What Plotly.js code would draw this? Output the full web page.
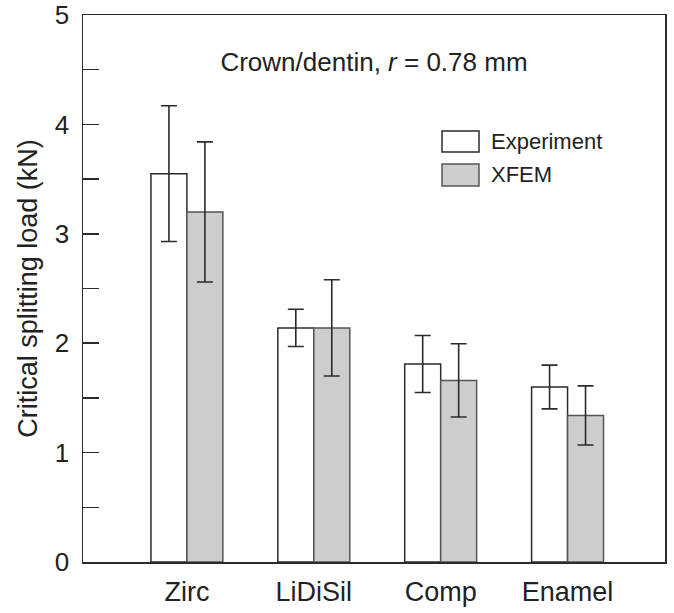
<!DOCTYPE html>
<html>
<head>
<meta charset="utf-8">
<script src="https://cdn.plot.ly/plotly-3.0.1.min.js"></script>
<style>html,body{margin:0;padding:0;background:#fff;}#chart{width:674px;height:613px;}</style>
</head>
<body>
<div id="chart"></div>
<script>
const categories = ['Zirc', 'LiDiSil', 'Comp', 'Enamel'];
const seriesNames = ['Experiment', 'XFEM'];
const experimentValues = [3.55, 2.14, 1.81, 1.60];
const experimentErrors = [0.62, 0.17, 0.26, 0.20];
const xfemValues = [3.20, 2.14, 1.66, 1.34];
const xfemErrors = [0.64, 0.44, 0.335, 0.27];
const yTickValues = [0, 0.5, 1, 1.5, 2, 2.5, 3, 3.5, 4, 4.5, 5];
const yTickLabels = ['0', '', '1', '', '2', '', '3', '', '4', '', '5'];
const titleText = 'Crown/dentin, <i>r</i> = 0.78 mm';
const yTitleText = 'Critical splitting load (kN)';

const FONT = 'Liberation Sans, Arial, Helvetica, sans-serif';
const DARK = '#2b2b2b';
const TEXT = '#222222';
const fills = ['#ffffff', '#cdcdcd'];
const outlines = ['#2b2b2b', '#555555'];

const traces = [
  {
    type: 'bar', name: seriesNames[0], x: categories, y: experimentValues,
    marker: {color: fills[0], line: {color: outlines[0], width: 1.5}},
    error_y: {type: 'data', array: experimentErrors, visible: true, color: DARK, thickness: 1.6, width: 8},
    showlegend: false, hoverinfo: 'none'
  },
  {
    type: 'bar', name: seriesNames[1], x: categories, y: xfemValues,
    marker: {color: fills[1], line: {color: outlines[1], width: 1.5}},
    error_y: {type: 'data', array: xfemErrors, visible: true, color: DARK, thickness: 1.6, width: 8},
    showlegend: false, hoverinfo: 'none'
  }
];

// legend box rows (pixel rows in the figure, top/bottom)
const rowsY = [[131, 152], [164, 186]];

const layout = {
  width: 674, height: 613,
  margin: {l: 83, r: 9, t: 15, b: 51, pad: 0},
  paper_bgcolor: '#ffffff', plot_bgcolor: '#ffffff',
  font: {family: FONT, color: TEXT, size: 24},
  barmode: 'group', bargap: 0.433, bargroupgap: 0,
  title: {
    text: titleText, font: {family: FONT, size: 26, color: TEXT},
    xref: 'container', yref: 'container', x: 374 / 674, y: 1 - 62 / 613,
    xanchor: 'center', yanchor: 'middle'
  },
  xaxis: {
    type: 'category', range: [-0.819, 3.768],
    showline: true, linecolor: DARK, linewidth: 1.5, mirror: true,
    ticks: '', showgrid: false, zeroline: false,
    tickfont: {family: FONT, size: 27, color: TEXT},
    ticklabelstandoff: 5
  },
  yaxis: {
    range: [0, 5], tickvals: yTickValues, ticktext: yTickLabels,
    ticks: 'inside', ticklen: 16, tickwidth: 1.5, tickcolor: DARK,
    showline: true, linecolor: DARK, linewidth: 1.5, mirror: true,
    showgrid: false, zeroline: false,
    tickfont: {family: FONT, size: 26, color: TEXT},
    ticklabelstandoff: 7,
    title: {text: yTitleText, font: {family: FONT, size: 27, color: TEXT}, standoff: 9}
  },
  shapes: seriesNames.map((nm, i) => ({
    type: 'rect', xref: 'paper', yref: 'paper',
    x0: (442 - 83) / 582, x1: (479 - 83) / 582,
    y0: (562 - rowsY[i][1]) / 547, y1: (562 - rowsY[i][0]) / 547,
    fillcolor: fills[i], line: {color: outlines[i], width: 1.5}
  })),
  annotations: seriesNames.map((nm, i) => ({
    text: nm, xref: 'paper', yref: 'paper', showarrow: false,
    x: (489 - 83) / 582, y: (562 - (rowsY[i][0] + rowsY[i][1]) / 2) / 547,
    xanchor: 'left', yanchor: 'middle',
    font: {family: FONT, size: 22, color: TEXT}
  }))
};

Plotly.newPlot('chart', traces, layout, {displayModeBar: false, staticPlot: true});
</script>
</body>
</html>
